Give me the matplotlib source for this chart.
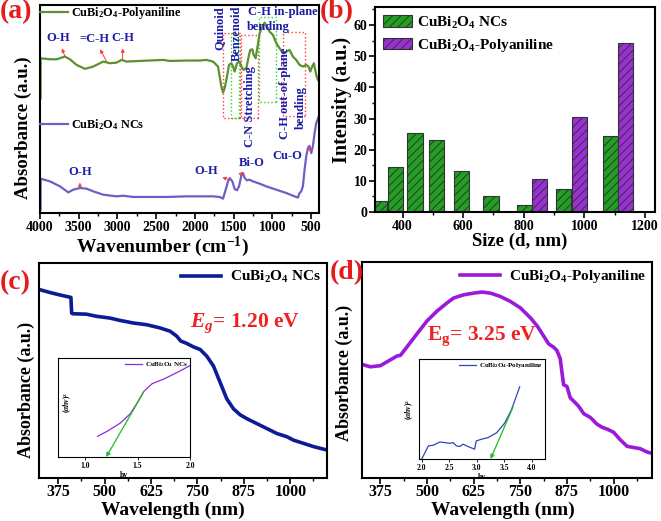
import matplotlib
matplotlib.use('Agg')
import matplotlib.pyplot as plt
from matplotlib.patches import Rectangle
from matplotlib.ticker import MultipleLocator

# ---------------- data ----------------
# (a) FTIR
ftir_wn_pani = [3992, 3992, 3871, 3785, 3678, 3614, 3528, 3420, 3313, 3184, 3098, 3012, 2948, 2884, 2712,
                2411, 2325, 2111, 1939, 1853, 1767, 1703, 1660, 1638, 1617, 1595, 1561, 1531, 1509,
                1488, 1458, 1424, 1402, 1372, 1338, 1303, 1286, 1260, 1243, 1217, 1200, 1166, 1132,
                1102, 1072, 1037, 994, 951, 908, 865, 822, 780, 737, 694, 651, 608, 565, 535, 513,
                488, 466, 436, 414]
ftir_abs_pani = [0.552, 0.744, 0.739, 0.739, 0.752, 0.739, 0.712, 0.693, 0.704, 0.728, 0.720, 0.723, 0.736,
                 0.728, 0.731, 0.736, 0.731, 0.733, 0.733, 0.736, 0.728, 0.704, 0.608, 0.579, 0.600,
                 0.640, 0.712, 0.720, 0.704, 0.680, 0.720, 0.728, 0.704, 0.688, 0.696, 0.760, 0.784,
                 0.787, 0.760, 0.744, 0.784, 0.864, 0.896, 0.915, 0.896, 0.872, 0.856, 0.816, 0.792,
                 0.768, 0.776, 0.784, 0.752, 0.736, 0.712, 0.704, 0.712, 0.704, 0.680, 0.704, 0.720,
                 0.664, 0.640]
ftir_wn_ncs = [3992, 3992, 3871, 3742, 3635, 3571, 3485, 3399, 3313, 3184, 3012, 2927, 2798, 2368, 2111,
               1939, 1767, 1681, 1638, 1604, 1574, 1552, 1518, 1488, 1458, 1432, 1402, 1381, 1359,
               1329, 1295, 1252, 1166, 1080, 951, 822, 737, 694, 672, 651, 629, 608, 586, 565, 543,
               522, 500, 479, 457, 436, 404]
ftir_abs_ncs = [0.016, 0.165, 0.152, 0.128, 0.099, 0.112, 0.120, 0.117, 0.104, 0.088, 0.080, 0.083, 0.077,
                0.077, 0.080, 0.080, 0.080, 0.077, 0.069, 0.112, 0.152, 0.168, 0.152, 0.115, 0.109,
                0.128, 0.179, 0.192, 0.168, 0.157, 0.160, 0.152, 0.141, 0.128, 0.112, 0.096, 0.083,
                0.077, 0.074, 0.096, 0.104, 0.128, 0.208, 0.272, 0.312, 0.323, 0.288, 0.320, 0.384,
                0.432, 0.464]

# (b) particle size distribution
size_ncs = [325, 378, 441, 512, 595, 692, 803, 931, 1085]
int_ncs = [3.4, 14.6, 25.5, 23.2, 13.0, 5.2, 2.4, 7.4, 24.4]
size_pani = [853, 983, 1136]
int_pani = [10.7, 30.4, 54.1]
b_xticks = [400, 600, 800, 1000, 1200]
b_yticks = [0, 10, 20, 30, 40, 50, 60]

# (c) UV-vis CuBi2O4 NCs
wl_ncs = [323, 352, 380, 409, 411, 414, 451, 478, 514, 541, 577, 613, 649, 676, 694, 705, 721, 739,
          757, 775, 793, 811, 829, 847, 865, 883, 910, 937, 964, 991, 1009, 1036, 1063, 1099]
abs_ncs = [0.877, 0.863, 0.851, 0.840, 0.767, 0.764, 0.762, 0.752, 0.744, 0.733, 0.721, 0.713, 0.698,
           0.683, 0.660, 0.637, 0.626, 0.610, 0.598, 0.567, 0.521, 0.445, 0.368, 0.322, 0.294,
           0.276, 0.253, 0.230, 0.207, 0.192, 0.176, 0.161, 0.146, 0.130]
hv_ncs = [1.118, 1.208, 1.335, 1.431, 1.495, 1.559, 1.639, 1.751, 1.879, 2.0]
tauc_ncs = [0.209, 0.259, 0.343, 0.438, 0.545, 0.663, 0.741, 0.788, 0.855, 0.923]
fit_ncs_hv = [1.20, 1.56]
fit_ncs_y = [0.0, 0.66]

# (d) UV-vis CuBi2O4-Polyaniline
wl_pani = [326, 348, 375, 393, 411, 420, 429, 446, 473, 500, 527, 554, 571, 598, 625, 647, 670, 696,
           723, 750, 777, 795, 812, 826, 839, 848, 857, 866, 875, 884, 893, 906, 920, 938, 955,
           969, 982, 1000, 1018, 1036, 1054, 1071, 1089, 1103]
abs_pani = [0.526, 0.515, 0.520, 0.538, 0.556, 0.565, 0.568, 0.606, 0.667, 0.727, 0.773, 0.811, 0.833,
            0.848, 0.856, 0.861, 0.856, 0.841, 0.818, 0.788, 0.742, 0.705, 0.659, 0.621, 0.606,
            0.591, 0.553, 0.432, 0.424, 0.371, 0.356, 0.333, 0.298, 0.280, 0.250, 0.235, 0.227,
            0.212, 0.177, 0.147, 0.141, 0.136, 0.121, 0.114]
hv_pani = [2.0, 2.12, 2.21, 2.33, 2.42, 2.51, 2.57, 2.63, 2.69, 2.75, 2.84, 2.96, 2.99, 3.08, 3.20,
           3.36, 3.51, 3.63, 3.78]
tauc_pani = [0.0, 0.131, 0.138, 0.170, 0.164, 0.157, 0.164, 0.131, 0.125, 0.148, 0.125, 0.098, 0.180,
             0.197, 0.213, 0.262, 0.361, 0.492, 0.721]
fit_pani_hv = [3.25, 3.66]
fit_pani_y = [0.0, 0.52]

uv_xticks = [375, 500, 625, 750, 875, 1000]

# ---------------- style ----------------
plt.rcParams.update({
    'font.family': ['Liberation Serif', 'DejaVu Serif'],
    'font.weight': 'bold',
    'axes.labelweight': 'bold',
    'mathtext.fontset': 'custom',
    'mathtext.rm': 'Liberation Serif:bold',
    'mathtext.it': 'Liberation Serif:italic:bold',
    'mathtext.bf': 'Liberation Serif:bold',
    'mathtext.default': 'rm',
    'hatch.linewidth': 0.7,
    'axes.linewidth': 1.5,
})

RED = '#ee2222'
NAVY = '#1c1ca8'
ARROW = '#ff3b3b'

fig = plt.figure(figsize=(6.61, 5.21), dpi=100)

# ---------------- (a) ----------------
axA = fig.add_axes([0.0605, 0.5912, 0.4221, 0.3992])
lg, = axA.plot(ftir_wn_pani, ftir_abs_pani, color='#5b9130', lw=1.6)
lp, = axA.plot(ftir_wn_ncs, ftir_abs_ncs, color='#6f5fc4', lw=1.6)
axA.set_xlim(4000, 400)
axA.set_ylim(0, 1)
axA.set_yticks([])
axA.xaxis.set_major_locator(MultipleLocator(500))
axA.xaxis.set_minor_locator(MultipleLocator(250))
axA.tick_params(axis='x', which='major', labelsize=10, length=4, width=1.2, pad=1.5)
axA.tick_params(axis='x', which='minor', length=2, width=1)
axA.set_xlabel('Wavenumber (cm$^{-1}$)', fontsize=14)
axA.xaxis.set_label_coords(0.44, -0.103)
axA.set_ylabel('Absorbance (a.u.)', fontsize=13.5)
axA.yaxis.set_label_coords(-0.029, 0.41)

legA1 = axA.legend([lg], ['CuBi$_2$O$_4$-Polyaniline'], loc='center left', bbox_to_anchor=(0, 0.96),
                   frameon=False, fontsize=8.8, handlelength=2.3, handletextpad=0.25,
                   borderaxespad=0, borderpad=0)
axA.add_artist(legA1)
axA.legend([lp], ['CuBi$_2$O$_4$ NCs'], loc='center left', bbox_to_anchor=(0, 0.423),
           frameon=False, fontsize=8.8, handlelength=2.3, handletextpad=0.25,
           borderaxespad=0, borderpad=0)

def note(ax, txt, pt, tp, fs=9):
    ax.annotate(txt, xy=pt, xytext=tp, ha='center', va='center', color=NAVY, fontsize=fs,
                arrowprops=dict(arrowstyle='<|-', color=ARROW, lw=0.7, shrinkA=1, shrinkB=0,
                                mutation_scale=5))

note(axA, 'O-H', (3678, 0.752), (3764, 0.84))
note(axA, '=C-H', (3141, 0.728), (3292, 0.835))
note(axA, 'C-H', (2935, 0.740), (2927, 0.84))
note(axA, 'O-H', (3485, 0.125), (3485, 0.195))
note(axA, 'O-H', (1561, 0.160), (1853, 0.200))
note(axA, 'Bi-O', (1390, 0.195), (1273, 0.240))
note(axA, 'Cu-O', (540, 0.305), (805, 0.275))

txt_kw = dict(color=NAVY, fontsize=9, ha='center', va='center')
axA.text(1681, 0.888, 'Quinoid', rotation=90, **txt_kw)
axA.text(1458, 0.864, 'Benzenoid', rotation=90, **txt_kw)
axA.text(865, 0.968, 'C-H in-plane', **txt_kw)
axA.text(1059, 0.896, 'bending', **txt_kw)
axA.text(1295, 0.512, 'C-N Stretching', rotation=90, **txt_kw)
axA.text(844, 0.576, 'C-H out-of-plane', rotation=90, **txt_kw)
axA.text(629, 0.509, 'bending', rotation=90, **txt_kw)

boxes = [((1638, 1424), (0.456, 0.864), ARROW),
         ((1531, 1432), (0.456, 0.864), '#22dd22'),
         ((1402, 1187), (0.456, 0.856), ARROW),
         ((1179, 951), (0.536, 0.941), '#22dd22'),
         ((865, 586), (0.464, 0.869), ARROW)]
for (x0, x1), (y0, y1), c in boxes:
    axA.add_patch(Rectangle((min(x0, x1), y0), abs(x1 - x0), y1 - y0, fill=False,
                            edgecolor=c, ls=':', lw=1.0))

# ---------------- (b) ----------------
axB = fig.add_axes([0.5673, 0.5931, 0.4236, 0.3935])
axB.bar(size_ncs, int_ncs, width=50, color='#22a022', edgecolor='#333333', hatch='////', lw=0.8,
        label='CuBi$_2$O$_4$ NCs')
axB.bar(size_pani, int_pani, width=50, color='#9a2fd6', edgecolor='#333333', hatch='////', lw=0.8,
        label='CuBi$_2$O$_4$-Polyaniline')
axB.set_xlim(309, 1233)
axB.set_ylim(0, 65.8)
axB.set_xticks(b_xticks)
axB.set_yticks(b_yticks)
axB.xaxis.set_minor_locator(MultipleLocator(100))
axB.yaxis.set_minor_locator(MultipleLocator(5))
axB.tick_params(which='major', labelsize=10, length=4, width=1.2, pad=1.5)
axB.tick_params(which='minor', length=2, width=1)
axB.set_xlabel('Size (d, nm)', fontsize=13.5)
axB.xaxis.set_label_coords(0.518, -0.103)
axB.set_ylabel('Intensity (a.u.)', fontsize=14.5)
axB.yaxis.set_label_coords(-0.082, 0.546)
axB.legend(loc='upper left', bbox_to_anchor=(0, 1), frameon=False, fontsize=11,
           handlelength=1.9, handleheight=0.8, labelspacing=0.4, handletextpad=0.35,
           borderaxespad=0.3, borderpad=0.2)

# ---------------- (c) ----------------
axC = fig.add_axes([0.0590, 0.0825, 0.4357, 0.4127])
axC.plot(wl_ncs, abs_ncs, color='#0b1c96', lw=2.6, label='CuBi$_2$O$_4$ NCs')
axC.set_xlim(323, 1099)
axC.set_ylim(0, 1)
axC.set_yticks([])
axC.set_xticks(uv_xticks)
axC.xaxis.set_minor_locator(MultipleLocator(62.5))
axC.tick_params(axis='x', which='major', labelsize=11.5, length=4, width=1.2, pad=0.5)
axC.tick_params(axis='x', which='minor', length=2.5, width=1)
axC.set_xlabel('Wavelength (nm)', fontsize=14)
axC.xaxis.set_label_coords(0.465, -0.109)
axC.set_ylabel('Absorbance (a.u.)', fontsize=13)
axC.yaxis.set_label_coords(-0.014, 0.409)
axC.legend(loc='upper right', frameon=False, fontsize=11, handlelength=2.6, handletextpad=0.6,
           borderaxespad=0.2, borderpad=0.2)
axC.text(0.524, 0.721, r'$\mathit{E_g}$= 1.20 eV', color=RED, fontsize=15.5, transform=axC.transAxes,
         va='center', ha='left')

inC = fig.add_axes([0.0877, 0.1228, 0.1997, 0.19])
inC.plot(hv_ncs, tauc_ncs, color='#8b2be2', lw=0.9, label='CuBi$_2$O$_4$ NCs')
inC.annotate('', xy=(fit_ncs_hv[0], fit_ncs_y[0]), xytext=(fit_ncs_hv[1], fit_ncs_y[1]),
             arrowprops=dict(arrowstyle='-|>', color='#22bb22', lw=0.9, shrinkA=0, shrinkB=0,
                             mutation_scale=6))
inC.set_xlim(0.74, 2.0)
inC.set_ylim(0, 1)
inC.set_yticks([])
inC.set_xticks([1.0, 1.5, 2.0])
inC.tick_params(labelsize=5.5, length=2, width=0.6, pad=1.5)
for s in inC.spines.values():
    s.set_linewidth(0.8)
inC.set_xlabel('hv', fontsize=5.5, labelpad=1)
inC.set_ylabel(r'$(\mathit{\alpha hv})^2$', fontsize=5.5)
inC.yaxis.set_label_coords(0.12, 0.55)
inC.legend(loc='upper right', frameon=False, fontsize=5, handlelength=2.5, handletextpad=0.4,
           borderaxespad=0.1, borderpad=0.2)

# ---------------- (d) ----------------
axD = fig.add_axes([0.5477, 0.0825, 0.4387, 0.4146])
axD.plot(wl_pani, abs_pani, color='#9b19d9', lw=2.6, label='CuBi$_2$O$_4$-Polyaniline')
axD.set_xlim(326, 1103)
axD.set_ylim(0, 1)
axD.set_yticks([])
axD.set_xticks(uv_xticks)
axD.xaxis.set_minor_locator(MultipleLocator(62.5))
axD.tick_params(axis='x', which='major', labelsize=11.5, length=4, width=1.2, pad=0.5)
axD.tick_params(axis='x', which='minor', length=2.5, width=1)
axD.set_xlabel('Wavelength (nm)', fontsize=14)
axD.xaxis.set_label_coords(0.486, -0.109)
axD.set_ylabel('Absorbance (a.u.)', fontsize=13)
axD.yaxis.set_label_coords(-0.031, 0.486)
axD.legend(loc='upper right', frameon=False, fontsize=11, handlelength=2.6, handletextpad=0.6,
           borderaxespad=0.2, borderpad=0.2)
axD.text(0.224, 0.657, r'E$_\mathrm{g}$= 3.25 eV', color=RED, fontsize=15.5, transform=axD.transAxes,
         va='center', ha='left')

inD = fig.add_axes([0.6339, 0.119, 0.1906, 0.192])
inD.plot(hv_pani, tauc_pani, color='#3344bb', lw=0.9, label='CuBi$_2$O$_4$-Polyaniline')
inD.annotate('', xy=(fit_pani_hv[0], fit_pani_y[0]), xytext=(fit_pani_hv[1], fit_pani_y[1]),
             arrowprops=dict(arrowstyle='-|>', color='#22bb22', lw=0.9, shrinkA=0, shrinkB=0,
                             mutation_scale=6))
inD.set_xlim(1.95, 4.24)
inD.set_ylim(0, 1)
inD.set_yticks([])
inD.set_xticks([2.0, 2.5, 3.0, 3.5, 4.0])
inD.tick_params(labelsize=5.5, length=2, width=0.6, pad=1.5)
for s in inD.spines.values():
    s.set_linewidth(0.8)
inD.set_xlabel('hv', fontsize=5.5, labelpad=1)
inD.set_ylabel(r'$(\mathit{\alpha hv})^2$', fontsize=5.5, labelpad=2)
inD.legend(loc='upper right', frameon=False, fontsize=5, handlelength=2.5, handletextpad=0.4,
           borderaxespad=0.1, borderpad=0.2)

# ---------------- panel labels ----------------
for lab, x, y in [('(a)', 0, 12), ('(b)', 320, 12), ('(c)', 0, 283), ('(d)', 330, 273)]:
    fig.text(x / 661, 1 - y / 521, lab, color='#e51c1c', fontsize=20, fontweight='bold',
             ha='left', va='center')

fig.savefig('out.png', dpi=100)
